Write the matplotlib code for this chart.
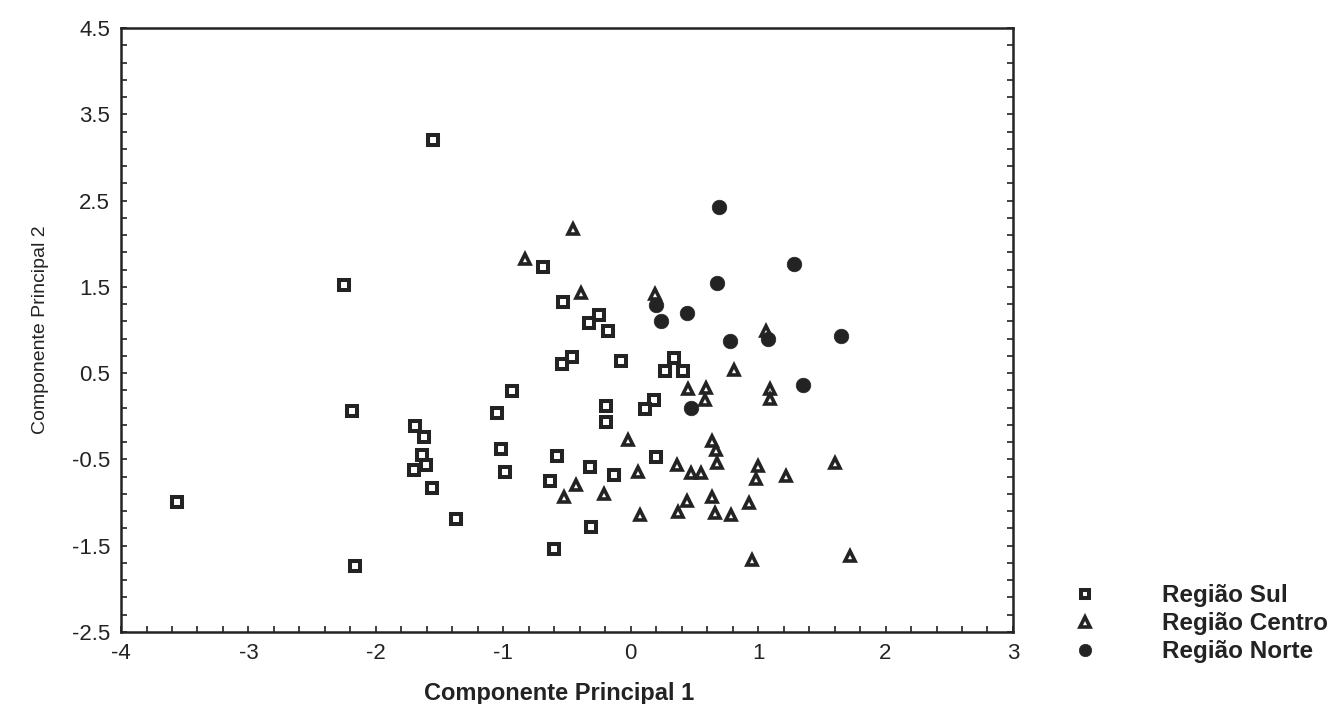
import numpy as np
import matplotlib
matplotlib.use("Agg")
import matplotlib.pyplot as plt
from matplotlib.ticker import FixedLocator

plt.rcParams["font.family"] = ["Liberation Sans", "DejaVu Sans"]

# scores on the first two principal components
sul_x = [-1.55, -2.25, -0.69, -0.53, -0.25, -0.33, -0.18, -0.46, -0.54, -0.08,
         0.34, 0.27, 0.41, -0.93, -1.05, -2.19, -0.19, -0.19, 0.18, 0.11,
         -1.69, -1.62, -1.64, -1.61, -1.70, -1.56, -1.02, -0.99, -0.575, -0.32,
         -0.13, -0.63, 0.20, -1.37, -3.56, -2.16, -0.31, -0.60]
sul_y = [3.20, 1.52, 1.73, 1.32, 1.17, 1.08, 0.985, 0.69, 0.61, 0.64,
         0.67, 0.53, 0.53, 0.29, 0.04, 0.06, 0.12, -0.07, 0.19, 0.08,
         -0.11, -0.24, -0.45, -0.56, -0.62, -0.83, -0.38, -0.65, -0.46, -0.585,
         -0.685, -0.75, -0.47, -1.19, -0.99, -1.73, -1.28, -1.54]

centro_x = [-0.83, -0.455, -0.39, 0.19, 1.06, 0.81, 0.45, 0.59, 0.58, 1.09,
            1.09, -0.02, 0.64, 0.67, 0.675, 0.36, 0.47, 0.55, 0.06, 1.00,
            0.985, 1.22, 1.60, -0.43, -0.52, -0.21, 0.44, 0.37, 0.64, 0.66,
            0.79, 0.925, 0.07, 0.955, 1.72]
centro_y = [1.82, 2.17, 1.43, 1.42, 0.99, 0.54, 0.32, 0.33, 0.19, 0.32,
            0.195, -0.28, -0.29, -0.39, -0.54, -0.56, -0.66, -0.66, -0.65, -0.58,
            -0.73, -0.69, -0.54, -0.80, -0.93, -0.905, -0.98, -1.11, -0.93, -1.12,
            -1.14, -1.01, -1.14, -1.66, -1.62]

norte_x = [0.69, 1.28, 0.68, 0.20, 0.445, 0.24, 0.78, 1.08, 1.65, 1.355, 0.47]
norte_y = [2.43, 1.76, 1.54, 1.29, 1.20, 1.11, 0.87, 0.90, 0.93, 0.36, 0.10]

ink = "#232323"

fig = plt.figure(figsize=(13.39, 7.04), dpi=100)
ax = fig.add_axes([0.0904, 0.1023, 0.6661, 0.8579])

ax.plot(sul_x, sul_y, ls="none", marker="s", ms=7.2, mfc="white", mec=ink, mew=2.9,
        label="Região Sul")
ax.plot(centro_x, centro_y, ls="none", marker="^", ms=7.8, mfc="white", mec=ink, mew=2.6,
        label="Região Centro")
ax.plot(norte_x, norte_y, ls="none", marker="o", ms=10.5, mfc=ink, mec=ink, mew=0.5,
        label="Região Norte")

ax.set_xlim(-4, 3)
ax.set_ylim(-2.5, 4.5)
ax.xaxis.set_major_locator(FixedLocator(np.arange(-4, 3.01, 1)))
ax.xaxis.set_minor_locator(FixedLocator(np.arange(-4, 3.01, 0.2)))
ax.yaxis.set_major_locator(FixedLocator(np.arange(-2.5, 4.51, 1)))
ax.yaxis.set_minor_locator(FixedLocator(np.arange(-2.5, 4.51, 0.2)))
ax.set_xticklabels([f"{v:g}" for v in np.arange(-4, 3.01, 1)])
ax.set_yticklabels([f"{v:.1f}" for v in np.arange(-2.5, 4.51, 1)])

ax.tick_params(which="both", direction="in", length=4, width=1.2, color=ink,
               right=True, labelsize=16, labelcolor=ink, pad=8)
for s in ax.spines.values():
    s.set_linewidth(1.8)
    s.set_color(ink)

ax.set_xlabel("Componente Principal 1", fontsize=17, fontweight="bold", color=ink)
ax.xaxis.set_label_coords(0.491, -0.082)
ax.set_ylabel("Componente Principal 2", fontsize=14, color=ink, labelpad=16)

fig.legend(loc="upper left", bbox_to_anchor=(0.8013, 0.170), frameon=False,
           prop={"weight": "bold", "size": 17.5}, handlelength=1, markerscale=0.85,
           handletextpad=2.67, labelspacing=0.2, borderaxespad=0, borderpad=0,
           labelcolor=ink)

fig.savefig("out.png", dpi=100)
print("wrote out.png")
